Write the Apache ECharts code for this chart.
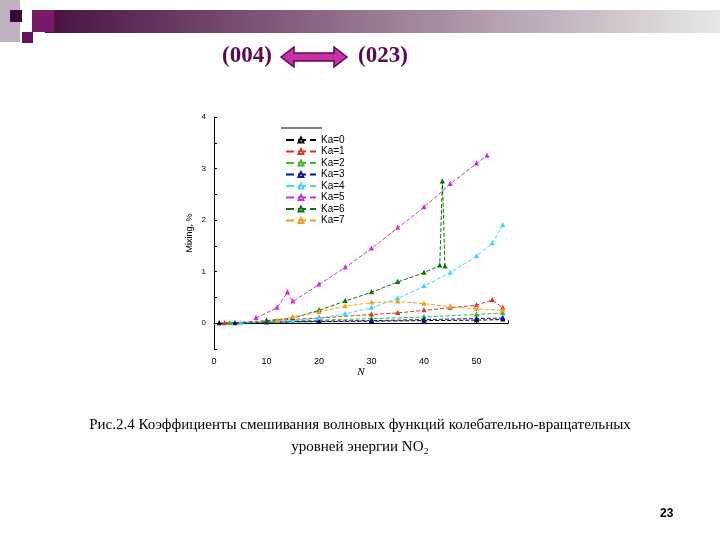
<!DOCTYPE html>
<html><head><meta charset="utf-8">
<script src="https://cdn.jsdelivr.net/npm/echarts@6/dist/echarts.min.js"></script>
<style>html,body{margin:0;background:#fff}#c{width:720px;height:540px}</style></head>
<body><div id="c"></div>
<script>
const seriesNames=['Ka=0','Ka=1','Ka=2','Ka=3','Ka=4','Ka=5','Ka=6','Ka=7'];
const colors=['#000000','#e03030','#30c030','#101090','#40d8f0','#d030d0','#107010','#f0a020'];
const ka0=[[1,0],[10,0.02],[20,0.03],[30,0.04],[40,0.05],[50,0.06],[55,0.07]];
const ka1=[[2,0],[10,0.05],[20,0.1],[30,0.17],[35,0.2],[40,0.25],[45,0.3],[50,0.35],[53,0.45],[55,0.3]];
const ka2=[[3,0],[10,0.03],[20,0.06],[30,0.09],[40,0.12],[50,0.17],[55,0.2]];
const ka3=[[4,0],[10,0.02],[20,0.04],[30,0.05],[40,0.07],[50,0.09],[55,0.1]];
const ka4=[[5,0],[15,0.05],[20,0.1],[25,0.18],[30,0.3],[35,0.48],[40,0.72],[45,0.98],[50,1.3],[53,1.55],[55,1.9]];
const ka5=[[8,0.1],[12,0.3],[14,0.6],[15,0.42],[20,0.75],[25,1.08],[30,1.45],[35,1.85],[40,2.25],[45,2.7],[50,3.1],[52,3.25]];
const ka6=[[10,0.05],[15,0.1],[20,0.25],[25,0.43],[30,0.6],[35,0.8],[40,0.98],[43,1.12],[43.5,2.75],[44,1.1]];
const ka7=[[12,0.05],[15,0.12],[20,0.22],[25,0.33],[30,0.4],[35,0.42],[40,0.38],[45,0.32],[50,0.28],[55,0.25]];
const allData=[ka0,ka1,ka2,ka3,ka4,ka5,ka6,ka7];
const xTicks=[0,10,20,30,40,50];
const yTicks=[0,1,2,3,4];
const ch=echarts.init(document.getElementById('c'));
ch.setOption({
 animation:false,
 graphic:[
  {type:'rect',shape:{x:45,y:10,width:675,height:23},style:{fill:new echarts.graphic.LinearGradient(0,0,1,0,[{offset:0,color:'#4a1040'},{offset:1,color:'#e8e8e8'}])}},
  {type:'rect',shape:{x:0,y:0,width:20,height:42},style:{fill:'#c0b0c0'}},
  {type:'rect',shape:{x:10,y:10,width:12,height:12},style:{fill:'#3a0a35'}},
  {type:'rect',shape:{x:32,y:10,width:22,height:22},style:{fill:'#7a1a6a'}},
  {type:'rect',shape:{x:22,y:32,width:11,height:11},style:{fill:'#6a1060'}},
  {type:'text',x:222,y:45,style:{text:'(004)',font:'bold 23px "Liberation Serif"',fill:'#5a0a50'}},
  {type:'text',x:358,y:45,style:{text:'(023)',font:'bold 23px "Liberation Serif"',fill:'#5a0a50'}},
  {type:'polygon',shape:{points:[[281,57],[294,47],[294,53],[334,53],[334,47],[347,57],[334,67],[334,61],[294,61],[294,67]]},style:{fill:'#c830a8',stroke:'#5a0a50',lineWidth:1.5}},
  {type:'text',x:360,y:418,style:{text:'Рис.2.4 Коэффициенты смешивания волновых функций колебательно-вращательных',font:'15px "Liberation Serif"',fill:'#000',align:'center'}},
  {type:'text',x:360,y:440,style:{text:'уровней энергии NO₂',font:'15px "Liberation Serif"',fill:'#000',align:'center'}},
  {type:'text',x:660,y:508,style:{text:'23',font:'bold 12px "Liberation Sans"',fill:'#000'}},
  {type:'line',shape:{x1:281,y1:128,x2:322,y2:128},style:{stroke:'#000',lineWidth:1}}
 ],
 grid:{left:214,top:117,width:294,height:232},
 legend:{orient:'vertical',left:280,top:130,itemWidth:30,itemHeight:6,itemGap:1.5,textStyle:{fontSize:10,fontFamily:'Liberation Sans',color:'#000'},data:seriesNames},
 xAxis:{type:'value',min:0,max:56,interval:10,name:'N',nameLocation:'middle',nameGap:16,nameTextStyle:{fontStyle:'italic',fontFamily:'Liberation Serif',fontSize:11},
  axisLine:{show:true,lineStyle:{color:'#000'}},axisTick:{show:true,inside:true,length:3},splitLine:{show:false},
  axisLabel:{fontSize:9,color:'#000',formatter:v=>xTicks.includes(v)?v:''}},
 yAxis:{type:'value',min:-0.5,max:4,interval:0.5,name:'Mixing, %',nameLocation:'middle',nameGap:20,nameTextStyle:{fontSize:9,fontFamily:'Liberation Sans'},
  axisLine:{show:true,lineStyle:{color:'#000'}},axisTick:{show:true,inside:true,length:3},splitLine:{show:false},
  axisLabel:{fontSize:8,color:'#000',formatter:v=>yTicks.includes(v)?String(v):''}},
 series:allData.map((d,i)=>({name:seriesNames[i],type:'line',data:d,symbol:'emptyTriangle',symbolSize:2,
   itemStyle:{color:colors[i]},lineStyle:{color:colors[i],width:1,type:'dashed'}}))
});
</script></body></html>
